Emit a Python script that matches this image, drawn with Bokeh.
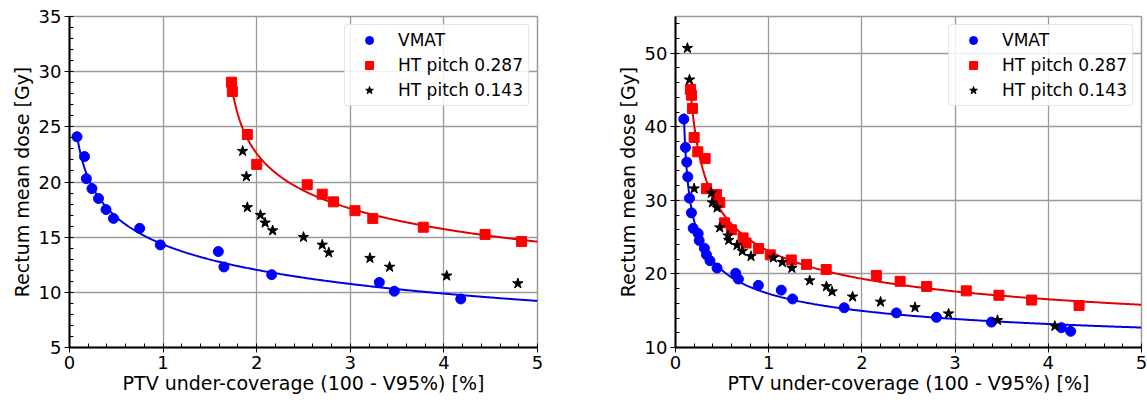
import numpy as np
from bokeh.plotting import figure
from bokeh.layouts import row
from bokeh.models import Legend, LegendItem, FixedTicker
from bokeh.embed import file_html
from bokeh.resources import INLINE

# ---------------- data: left panel ----------------
left_vmat_x = [0.08, 0.16, 0.18, 0.24, 0.31, 0.39, 0.47, 0.75, 0.97, 1.59, 1.65, 2.16, 3.31, 3.47, 4.18]
left_vmat_y = [24.1, 22.3, 20.3, 19.4, 18.5, 17.5, 16.7, 15.8, 14.3, 13.7, 12.3, 11.6, 10.9, 10.1, 9.4]
left_ht287_x = [1.73, 1.74, 1.90, 2.00, 2.54, 2.70, 2.82, 3.05, 3.24, 3.78, 4.44, 4.83]
left_ht287_y = [29.05, 28.2, 24.3, 21.6, 19.75, 18.9, 18.2, 17.4, 16.7, 15.9, 15.25, 14.6]
left_ht143_x = [1.85, 1.89, 1.90, 2.04, 2.09, 2.17, 2.50, 2.70, 2.77, 3.21, 3.42, 4.03, 4.79]
left_ht143_y = [22.8, 20.5, 17.7, 17.0, 16.3, 15.6, 15.0, 14.3, 13.6, 13.1, 12.3, 11.5, 10.8]

# ---------------- data: right panel ----------------
right_vmat_x = [0.089, 0.107, 0.121, 0.132, 0.15, 0.171, 0.19, 0.243, 0.254, 0.31, 0.332, 0.37, 0.446,
                0.646, 0.675, 0.889, 1.135, 1.256, 1.81, 2.37, 2.80, 3.39, 4.14, 4.24]
right_vmat_y = [41.05, 37.2, 35.2, 33.2, 30.3, 28.3, 26.2, 25.5, 24.55, 23.5, 22.6, 21.8, 20.8,
                20.1, 19.3, 18.45, 17.8, 16.6, 15.4, 14.7, 14.1, 13.45, 12.7, 12.2]
right_ht287_x = [0.16, 0.171, 0.182, 0.20, 0.239, 0.318, 0.332, 0.439, 0.475, 0.525, 0.60, 0.725, 0.757,
                 0.892, 1.017, 1.242, 1.406, 1.617, 2.155, 2.41, 2.695, 3.12, 3.47, 3.82, 4.33]
right_ht287_y = [45.1, 44.3, 42.5, 38.55, 36.6, 35.7, 31.6, 30.8, 29.7, 26.95, 26.0, 24.9, 24.2,
                 23.45, 22.6, 21.9, 21.3, 20.6, 19.8, 19.0, 18.3, 17.7, 17.1, 16.45, 15.7]
right_ht143_x = [0.128, 0.15, 0.20, 0.385, 0.396, 0.446, 0.475, 0.564, 0.571, 0.66, 0.717, 0.81, 1.05,
                 1.146, 1.249, 1.44, 1.62, 1.68, 1.90, 2.20, 2.57, 2.93, 3.455, 4.07]
right_ht143_y = [50.7, 46.4, 31.6, 31.0, 29.7, 29.0, 26.3, 25.2, 24.6, 23.9, 23.1, 22.4, 22.2,
                 21.6, 20.8, 19.1, 18.3, 17.6, 16.9, 16.2, 15.45, 14.6, 13.7, 12.9]

labels = ["VMAT", "HT pitch 0.287", "HT pitch 0.143"]
x_ticks = [0, 1, 2, 3, 4, 5]
left_y_ticks = [5, 10, 15, 20, 25, 30, 35]
right_y_ticks = [10, 20, 30, 40, 50]

FONT = "DejaVu Sans"
GRID = "#9a9a9a"


def fit_curve(xs, ys, x_end=5.0):
    """Least-squares fit y = c + A*(x-x0)^-k to the points; returns a smooth trend line."""
    xs = np.asarray(xs, float)
    ys = np.asarray(ys, float)
    best = None
    for x0 in np.linspace(xs.min() - 0.6, xs.min() - 0.005, 120):
        for k in np.linspace(0.1, 2.5, 97):
            f = (xs - x0) ** (-k)
            M = np.column_stack([np.ones_like(f), f])
            coef = np.linalg.lstsq(M, ys, rcond=None)[0]
            err = np.sum((M @ coef - ys) ** 2)
            if best is None or err < best[0]:
                best = (err, x0, k, coef)
    _, x0, k, coef = best
    xx = np.linspace(xs.min(), x_end, 400)
    return xx, coef[0] + coef[1] * (xx - x0) ** (-k)


def make_panel(vx, vy, rx, ry, sx, sy, y_range, y_ticks, y_minor, frame_w, border_left, border_right):
    p = figure(frame_width=frame_w, frame_height=331, x_range=(0, 5), y_range=y_range,
               output_backend="svg", toolbar_location=None,
               min_border_left=border_left, min_border_right=border_right,
               min_border_top=16, min_border_bottom=55)
    p.background_fill_color = "white"
    p.outline_line_color = GRID
    p.outline_line_width = 1.5

    for ax in (p.xaxis[0], p.yaxis[0]):
        ax.axis_line_color = "black"
        ax.axis_line_width = 2
        ax.major_tick_out = 5
        ax.major_tick_in = 0
        ax.minor_tick_in = 4
        ax.minor_tick_out = 0
        ax.major_tick_line_color = "black"
        ax.minor_tick_line_color = "black"
        ax.major_label_text_font = FONT
        ax.major_label_text_font_size = "18px"
        ax.major_label_text_color = "black"
        ax.major_label_standoff = 3
        ax.axis_label_text_font = FONT
        ax.axis_label_text_font_size = "19px"
        ax.axis_label_text_font_style = "normal"
        ax.axis_label_text_color = "black"
    p.xaxis.axis_label_standoff = 0
    p.yaxis.axis_label_standoff = 3

    p.xaxis.ticker = FixedTicker(ticks=x_ticks, minor_ticks=list(np.arange(0, 5.001, 0.2)))
    p.yaxis.ticker = FixedTicker(ticks=y_ticks, minor_ticks=y_minor)
    p.xaxis.axis_label = "PTV under-coverage (100 - V95%) [%]"
    p.yaxis.axis_label = "Rectum mean dose [Gy]"

    p.grid.grid_line_color = GRID
    p.grid.grid_line_width = 1.3

    bx, by = fit_curve(vx, vy)
    p.line(bx, by, line_color="#0000e0", line_width=2)
    rxx, ryy = fit_curve(rx, ry)
    p.line(rxx, ryy, line_color="#e00000", line_width=2)

    r1 = p.scatter(vx, vy, marker="circle", size=10, fill_color="#0000ff", line_color="#0000ff")
    r2 = p.scatter(rx, ry, marker="square", size=10, fill_color="#ff0000", line_color="#ff0000")
    r3 = p.scatter(sx, sy, marker="star", size=11, fill_color="black", line_color="black")

    legend = Legend(items=[LegendItem(label=labels[0], renderers=[r1]),
                           LegendItem(label=labels[1], renderers=[r2]),
                           LegendItem(label=labels[2], renderers=[r3])],
                    location="top_right")
    legend.margin = 8
    legend.padding = 5
    legend.spacing = 5
    legend.glyph_width = 38
    legend.glyph_height = 20
    legend.label_height = 20
    legend.label_standoff = 10
    legend.label_text_font = FONT
    legend.label_text_font_size = "17px"
    legend.label_text_color = "black"
    legend.border_line_color = "#cccccc"
    legend.border_line_width = 1
    legend.background_fill_alpha = 0.85
    legend.border_radius = 3
    p.add_layout(legend)
    return p


p1 = make_panel(left_vmat_x, left_vmat_y, left_ht287_x, left_ht287_y, left_ht143_x, left_ht143_y,
                (5, 35), left_y_ticks, list(range(5, 36)), 468, 69, 76)
p2 = make_panel(right_vmat_x, right_vmat_y, right_ht287_x, right_ht287_y, right_ht143_x, right_ht143_y,
                (10, 55), right_y_ticks, list(range(10, 56, 2)), 466, 60, 8)

layout = row(p1, p2)
open("out.html", "w").write(file_html(layout, INLINE))
